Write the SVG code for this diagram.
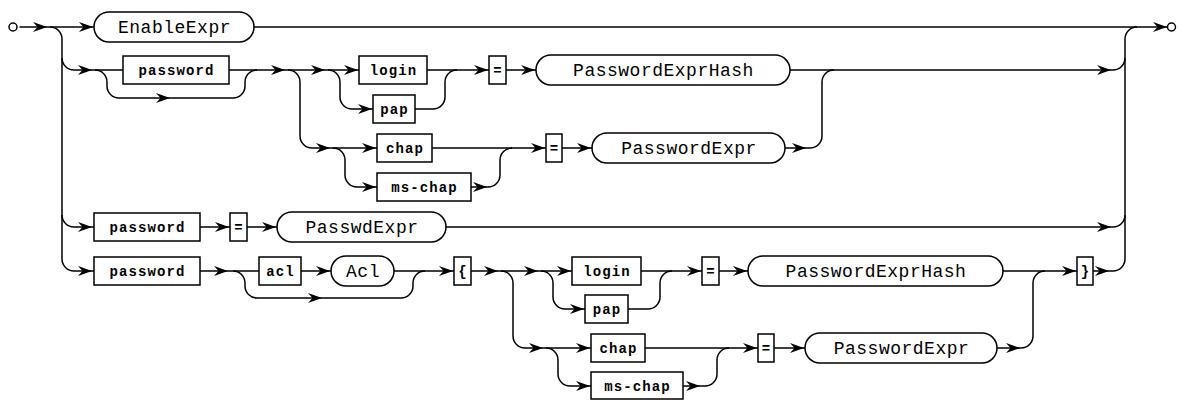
<svg xmlns="http://www.w3.org/2000/svg" xmlns:xlink="http://www.w3.org/1999/xlink" width="1178" height="400" viewBox="0 0 1178 400">
<style>
  .c { fill: none; stroke: #000; stroke-width: 1.5; }
  .t rect { fill: #fff; stroke: #000; stroke-width: 1.5; }
  .n rect { fill: #fff; stroke: #000; stroke-width: 1.5; }
  .t text { font-family: "Liberation Mono", monospace; font-weight: bold; font-size: 14px; letter-spacing: 1.1px; text-anchor: middle; fill: #000; }
  .n text { font-family: "Liberation Mono", monospace; font-size: 18px; letter-spacing: 0.5px; text-anchor: middle; fill: #000; }
  .e { fill: #fff; stroke: #000; stroke-width: 1.5; }
</style>
<defs>
  <path id="a" d="M0,0 L-14,-5 L-9.5,0 L-14,5 Z" fill="#000"/>
</defs>
<g id="connectors">
  <path class="c" d="M19.5,27 H1167"/>
  <path class="c" d="M50,27 a12,12 0 0 1 12,12 V259 a12,12 0 0 0 12,12 H94"/>
  <path class="c" d="M62,58 a12,12 0 0 0 12,12 H123"/>
  <path class="c" d="M62,215 a12,12 0 0 0 12,12 H94"/>
  <path class="c" d="M229,70 H359 M427,70 H489 M506,70 H536 M790,70 H1113 a12,12 0 0 0 12,-12"/>
  <path class="c" d="M95,70 a12,12 0 0 1 12,12 V86 a12,12 0 0 0 12,12 H233 a12,12 0 0 0 12,-12 V82 a12,12 0 0 1 12,-12"/>
  <path class="c" d="M288,70 a12,12 0 0 1 12,12 V136 a12,12 0 0 0 12,12 H377"/>
  <path class="c" d="M328,70 a12,12 0 0 1 12,12 V97 a12,12 0 0 0 12,12 H373"/>
  <path class="c" d="M415,109 H433 a12,12 0 0 0 12,-12 V82 a12,12 0 0 1 12,-12"/>
  <path class="c" d="M333,148 a12,12 0 0 1 12,12 V175 a12,12 0 0 0 12,12 H377"/>
  <path class="c" d="M432,148 H546 M562,148 H592 M785,148 H810 a12,12 0 0 0 12,-12 V82 a12,12 0 0 1 12,-12"/>
  <path class="c" d="M471,187 H488 a12,12 0 0 0 12,-12 V160 a12,12 0 0 1 12,-12"/>
  <path class="c" d="M200,227 H230 M247,227 H277 M446,227 H1113 a12,12 0 0 0 12,-12"/>
  <path class="c" d="M1125,259 V39 a12,12 0 0 1 12,-12"/>
  <path class="c" d="M200,271 H259 M301,271 H331 M394,271 H454 M471,271 H572 M641,271 H702 M719,271 H748 M1003,271 H1077 M1093,271 H1113 a12,12 0 0 0 12,-12"/>
  <path class="c" d="M233,271 a12,12 0 0 1 12,12 V286 a12,12 0 0 0 12,12 H401 a12,12 0 0 0 12,-12 V283 a12,12 0 0 1 12,-12"/>
  <path class="c" d="M501,271 a12,12 0 0 1 12,12 V336 a12,12 0 0 0 12,12 H591"/>
  <path class="c" d="M541,271 a12,12 0 0 1 12,12 V297 a12,12 0 0 0 12,12 H585"/>
  <path class="c" d="M628,309 H648 a12,12 0 0 0 12,-12 V283 a12,12 0 0 1 12,-12"/>
  <path class="c" d="M546,348 a12,12 0 0 1 12,12 V374 a12,12 0 0 0 12,12 H591"/>
  <path class="c" d="M683,386 H705 a12,12 0 0 0 12,-12 V360 a12,12 0 0 1 12,-12"/>
  <path class="c" d="M645,348 H758 M774,348 H805 M997,348 H1021 a12,12 0 0 0 12,-12 V283 a12,12 0 0 1 12,-12"/>
  <circle class="e" cx="13" cy="27" r="4"/>
  <circle class="e" cx="1171.5" cy="27" r="4"/>
  <use xlink:href="#a" x="47" y="27"/>
  <use xlink:href="#a" x="93" y="27"/>
  <use xlink:href="#a" x="1167" y="27"/>
  <use xlink:href="#a" x="92" y="70"/>
  <use xlink:href="#a" x="170" y="98"/>
  <use xlink:href="#a" x="285" y="70"/>
  <use xlink:href="#a" x="325" y="70"/>
  <use xlink:href="#a" x="358" y="70"/>
  <use xlink:href="#a" x="372" y="109"/>
  <use xlink:href="#a" x="488" y="70"/>
  <use xlink:href="#a" x="535" y="70"/>
  <use xlink:href="#a" x="1111" y="70"/>
  <use xlink:href="#a" x="330" y="148"/>
  <use xlink:href="#a" x="376" y="148"/>
  <use xlink:href="#a" x="376" y="187"/>
  <use xlink:href="#a" x="487" y="187"/>
  <use xlink:href="#a" x="545" y="148"/>
  <use xlink:href="#a" x="591" y="148"/>
  <use xlink:href="#a" x="806" y="148"/>
  <use xlink:href="#a" x="92" y="227"/>
  <use xlink:href="#a" x="229" y="227"/>
  <use xlink:href="#a" x="276" y="227"/>
  <use xlink:href="#a" x="1111" y="227"/>
  <use xlink:href="#a" x="92" y="271"/>
  <use xlink:href="#a" x="228" y="271"/>
  <use xlink:href="#a" x="322" y="298"/>
  <use xlink:href="#a" x="330" y="271"/>
  <use xlink:href="#a" x="453" y="271"/>
  <use xlink:href="#a" x="498" y="271"/>
  <use xlink:href="#a" x="538" y="271"/>
  <use xlink:href="#a" x="571" y="271"/>
  <use xlink:href="#a" x="584" y="309"/>
  <use xlink:href="#a" x="701" y="271"/>
  <use xlink:href="#a" x="747" y="271"/>
  <use xlink:href="#a" x="1076" y="271"/>
  <use xlink:href="#a" x="1109" y="271"/>
  <use xlink:href="#a" x="543" y="348"/>
  <use xlink:href="#a" x="590" y="348"/>
  <use xlink:href="#a" x="590" y="386"/>
  <use xlink:href="#a" x="700" y="386"/>
  <use xlink:href="#a" x="757" y="348"/>
  <use xlink:href="#a" x="804" y="348"/>
  <use xlink:href="#a" x="1020" y="348"/>
</g>
<g id="n-enableexpr" class="n"><rect x="94" y="12" width="160" height="30" rx="15"/><text x="174.5" y="33">EnableExpr</text></g>
<g id="t-password1" class="t"><rect x="123" y="56" width="106" height="28"/><text x="176.5" y="74.5">password</text></g>
<g id="t-login1" class="t"><rect x="359" y="56" width="68" height="28"/><text x="393.5" y="74.5">login</text></g>
<g id="t-pap1" class="t"><rect x="373" y="95" width="42" height="28"/><text x="394.5" y="113.5">pap</text></g>
<g id="t-eq1" class="t"><rect x="489" y="56" width="17" height="28"/><text x="498" y="74.5">=</text></g>
<g id="n-pwhash1" class="n"><rect x="536" y="55" width="254" height="30" rx="15"/><text x="663.5" y="76">PasswordExprHash</text></g>
<g id="t-chap1" class="t"><rect x="377" y="134" width="55" height="28"/><text x="405" y="152.5">chap</text></g>
<g id="t-mschap1" class="t"><rect x="377" y="173" width="94" height="28"/><text x="424.5" y="191.5">ms-chap</text></g>
<g id="t-eq2" class="t"><rect x="546" y="134" width="16" height="28"/><text x="554.5" y="152.5">=</text></g>
<g id="n-pwexpr1" class="n"><rect x="592" y="133" width="193" height="30" rx="15"/><text x="689" y="154">PasswordExpr</text></g>
<g id="t-password2" class="t"><rect x="94" y="213" width="106" height="28"/><text x="147.5" y="231.5">password</text></g>
<g id="t-eq3" class="t"><rect x="230" y="213" width="17" height="28"/><text x="239" y="231.5">=</text></g>
<g id="n-passwdexpr" class="n"><rect x="277" y="212" width="169" height="30" rx="15"/><text x="362" y="233">PasswdExpr</text></g>
<g id="t-password3" class="t"><rect x="94" y="257" width="106" height="28"/><text x="147.5" y="275.5">password</text></g>
<g id="t-acl" class="t"><rect x="259" y="257" width="42" height="28"/><text x="280.5" y="275.5">acl</text></g>
<g id="n-acl" class="n"><rect x="331" y="256" width="63" height="30" rx="15"/><text x="363" y="277">Acl</text></g>
<g id="t-lbrace" class="t"><rect x="454" y="257" width="17" height="28"/><text x="463" y="275.5">{</text></g>
<g id="t-login2" class="t"><rect x="572" y="257" width="69" height="28"/><text x="607" y="275.5">login</text></g>
<g id="t-pap2" class="t"><rect x="585" y="295" width="43" height="28"/><text x="607" y="313.5">pap</text></g>
<g id="t-eq4" class="t"><rect x="702" y="257" width="17" height="28"/><text x="711" y="275.5">=</text></g>
<g id="n-pwhash2" class="n"><rect x="748" y="256" width="255" height="30" rx="15"/><text x="876" y="277">PasswordExprHash</text></g>
<g id="t-rbrace" class="t"><rect x="1077" y="257" width="16" height="28"/><text x="1085.5" y="275.5">}</text></g>
<g id="t-chap2" class="t"><rect x="591" y="334" width="54" height="28"/><text x="618.5" y="352.5">chap</text></g>
<g id="t-mschap2" class="t"><rect x="591" y="372" width="92" height="27"/><text x="637.5" y="390.5">ms-chap</text></g>
<g id="t-eq5" class="t"><rect x="758" y="334" width="16" height="28"/><text x="766.5" y="352.5">=</text></g>
<g id="n-pwexpr2" class="n"><rect x="805" y="333" width="192" height="30" rx="15"/><text x="901.5" y="354">PasswordExpr</text></g>
</svg>
